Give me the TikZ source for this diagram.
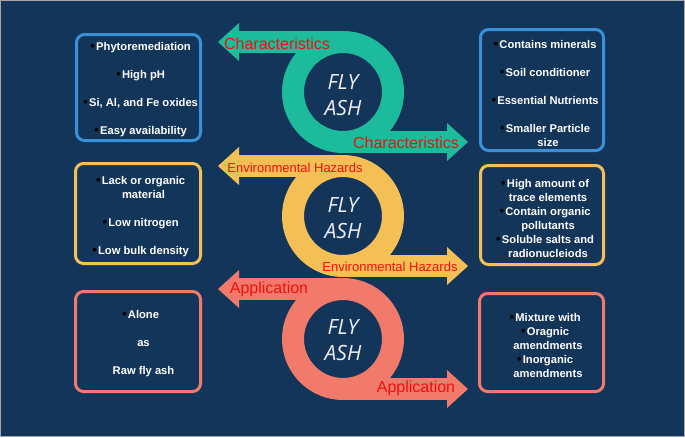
\documentclass[tikz,border=0pt]{standalone}
\usepackage{fontspec}
\setmainfont{Liberation Sans}
\newfontfamily\flyfont{Open Sans}
\definecolor{bg}{HTML}{13355A}
\definecolor{tealc}{HTML}{1CBB9B}
\definecolor{yelc}{HTML}{F4BF55}
\definecolor{salc}{HTML}{F27A6A}
\definecolor{bluec}{HTML}{3B90DA}
\definecolor{redc}{HTML}{F01010}
\definecolor{flyc}{HTML}{EEEEF4}
\newcommand\bul{\llap{\textcolor{black}{\fontsize{13}{14}\selectfont\textbullet}\hspace{1.2pt}}}
\newcommand\flyloop[2]{%
  \fill[#1] (238,#2-61) rectangle (343,#2-39);
  \fill[#1] (218,#2-50) -- (239,#2-69) -- (239,#2-31) -- cycle;
  \draw[#1,line width=22pt] (343,#2) circle[radius=50pt];
  \fill[#1] (343,#2+39) rectangle (447,#2+61);
  \fill[#1] (468,#2+50) -- (447,#2+31) -- (447,#2+69) -- cycle;
}
\begin{document}
\begin{tikzpicture}[x=1pt,y=-1pt,
  box/.style={draw,line width=3pt,rounded corners=8pt,fill=bg,inner sep=0pt},
  txt/.style={text=white,font=\fontsize{11.2}{14}\selectfont\bfseries,align=center,inner sep=0pt},
  lbl/.style={text=redc,inner sep=0pt,font=\fontsize{16}{16}\selectfont},
  lbls/.style={text=redc,inner sep=0pt,font=\fontsize{13}{13}\selectfont},
  fly/.style={text=flyc,align=center,font=\flyfont\itshape\fontsize{21}{26}\selectfont,inner sep=0pt}]
\useasboundingbox (0,0) rectangle (685,437);
\fill[bg] (0,0) rectangle (685,437);
\draw[gray!70,line width=1pt] (0.5,0.5) rectangle (684.5,436.5);

% boxes
\node[box,draw=bluec,minimum width=124pt,minimum height=106pt] (b1) at (138.5,87.5) {};
\node[box,draw=bluec,minimum width=123pt,minimum height=121pt] (b2) at (542,90) {};
\node[box,draw=yelc,minimum width=125pt,minimum height=100pt] (b3) at (138,213.5) {};
\node[box,draw=yelc,minimum width=123pt,minimum height=99pt] (b4) at (542,215) {};
\node[box,draw=salc,minimum width=125pt,minimum height=100pt] (b5) at (138,341.5) {};
\node[box,draw=salc,minimum width=124pt,minimum height=98pt] (b6) at (541.5,342.5) {};

% box texts
\node[txt] (t1) at (143.5,89.5) {\bul Phytoremediation\\[14pt]\bul High pH\\[14pt]\bul Si, Al, and Fe oxides\\[14pt]\bul Easy availability};
\node[txt] (t2) at (548,93) {\bul Contains minerals\\[14pt]\bul Soil conditioner\\[14pt]\bul Essential Nutrients\\[14pt]\bul Smaller Particle\\size};
\node[txt] (t3) at (143.5,216.5) {\bul Lack or organic\\material\\[14pt]\bul Low nitrogen\\[14pt]\bul Low bulk density};
\node[txt] (t4) at (548,218.5) {\bul High amount of\\trace elements\\\bul Contain organic\\pollutants\\\bul Soluble salts and\\radionucleiods};
\node[txt] (t5) at (143.5,343.5) {\bul Alone\\[14pt]as\\[14pt]Raw fly ash};
\node[txt] (t6) at (548,345.5) {\bul Mixture with\\\bul Oragnic\\amendments\\\bul Inorganic\\amendments};

% loops
\flyloop{tealc}{92}
\flyloop{yelc}{216}
\flyloop{salc}{339}

% FLY ASH
\node[fly] (f1) at (343,95) {FLY\\ASH};
\node[fly] (f2) at (343,218.5) {FLY\\ASH};
\node[fly] (f3) at (343,340.5) {FLY\\ASH};

% arrow labels
\node[lbl] (l1) at (277,44) {Characteristics};
\node[lbl] (l2) at (406,143) {Characteristics};
\node[lbls] (l3) at (295,168) {Environmental Hazards};
\node[lbls] (l4) at (390,267) {Environmental Hazards};
\node[lbl] (l5) at (269,289) {Application};
\node[lbl] (l6) at (416,388) {Application};
\end{tikzpicture}
\end{document}
